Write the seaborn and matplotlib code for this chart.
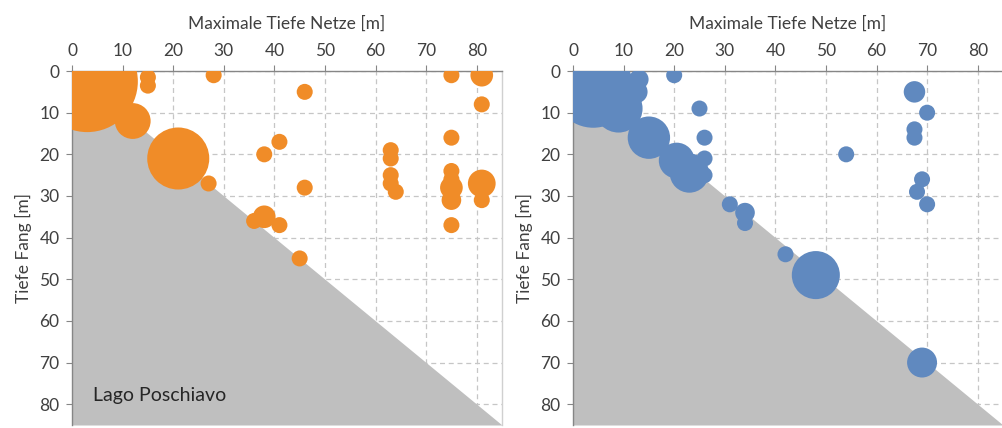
import numpy as np
import pandas as pd
import matplotlib
matplotlib.use("Agg")
import matplotlib.pyplot as plt
import seaborn as sns

# Lago Poschiavo: max net depth (x), catch depth (y), number of fish (bubble size)
left_x = [3, 15, 15, 28, 46, 75, 81, 81, 12, 21, 75, 41, 38, 63, 63, 63, 63, 64,
          27, 46, 75, 75, 75, 75, 75, 81, 81, 36, 38, 41, 45]
left_y = [2.5, 1.5, 3.5, 1, 5, 1, 1, 8, 12, 21, 16, 17, 20, 19, 21, 25, 27, 29,
          27, 28, 24, 26, 28, 31, 37, 27, 31, 36, 35, 37, 45]
left_n = [40, 1, 1, 1, 1, 1, 2, 1, 5, 15, 1, 1, 1, 1, 1, 1, 1, 1,
          1, 1, 1, 1, 2, 1.5, 1, 3, 1, 1, 2, 1, 1]

# second lake
right_x = [4, 9, 13, 12.5, 15, 20.5, 23, 26, 26, 26, 25, 20, 31, 34, 34, 42, 48,
           69, 54, 67.5, 70, 67.5, 67.5, 69, 68, 70]
right_y = [4, 9, 2, 5, 16, 21.5, 24.5, 21, 25, 16, 9, 1, 32, 34, 36.5, 44, 49,
           70, 20, 5, 10, 14, 16, 26, 29, 32]
right_n = [25, 9, 1.5, 2, 7, 5, 6, 1, 1, 1, 1, 1, 1, 1.5, 1, 1, 9,
           3.5, 1, 1.8, 1, 1, 1, 1, 1, 1]

# bottom profile (catch depth cannot exceed net depth)
bottom_x = [0, 85]
bottom_y = [0, 85]

ticks = [0, 10, 20, 30, 40, 50, 60, 70, 80]
xlabel = "Maximale Tiefe Netze [m]"
ylabel = "Tiefe Fang [m]"
lake_label = "Lago Poschiavo"

sns.set_style("white")
plt.rcParams['font.family'] = ['Lato', 'DejaVu Sans']
text_col = '#404040'
S = 133.0  # marker area (pt^2) per fish

fig = plt.figure(figsize=(10.03, 4.28), dpi=100)
ax1 = fig.add_axes([0.0718, 0.007, 0.4287, 0.827])
ax2 = fig.add_axes([0.5713, 0.007, 0.4287, 0.827])


def draw_panel(ax, xs, ys, ns, color):
    df = pd.DataFrame({'net': xs, 'catch': ys, 'n': ns})
    ax.set_axisbelow(True)
    ax.grid(True, color='#c6c6c6', linestyle=(0, (4, 3)), linewidth=0.9)
    ax.fill_between(bottom_x, bottom_y, 85, color='#bfbfbf', linewidth=0, zorder=1)
    nmax = max(ns)
    sns.scatterplot(data=df, x='net', y='catch', size='n', sizes=(0, S * nmax),
                    size_norm=(0, nmax), color=color, edgecolor='none', linewidth=0,
                    legend=False, ax=ax, zorder=3, alpha=1)
    ax.set_xlim(0, 85)
    ax.set_ylim(85, 0)
    ax.set_xticks(ticks)
    ax.set_yticks(ticks)
    ax.xaxis.tick_top()
    ax.xaxis.set_label_position('top')
    ax.tick_params(axis='both', labelsize=12.5, colors=text_col, length=4, width=0.8,
                   color='#868686', pad=5)
    ax.tick_params(axis='x', top=True, bottom=False)
    ax.tick_params(axis='y', left=True)
    ax.set_xlabel(xlabel, fontsize=12.5, color=text_col, labelpad=10)
    ax.set_ylabel(ylabel, fontsize=12.5, color=text_col, labelpad=5)
    for side in ['top', 'left']:
        ax.spines[side].set_color('#868686')
        ax.spines[side].set_linewidth(1.0)
    ax.spines['right'].set_color('#d0d0d0')
    ax.spines['right'].set_linewidth(1.0)
    ax.spines['bottom'].set_visible(False)


draw_panel(ax1, left_x, left_y, left_n, '#f08c28')
draw_panel(ax2, right_x, right_y, right_n, '#6089bf')

ax1.text(4.2, 78, lake_label, fontsize=14, color='#262626', va='center', ha='left', zorder=4)

fig.savefig('out.png', dpi=100)
